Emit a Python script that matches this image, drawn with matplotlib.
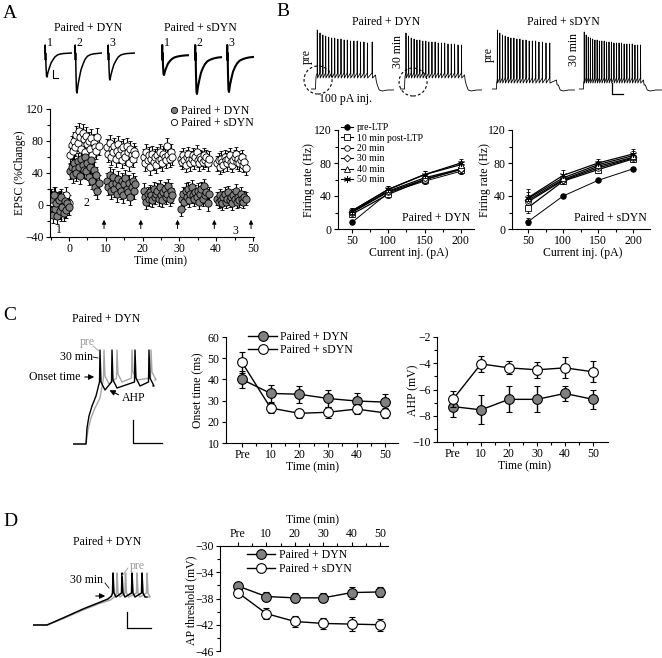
import numpy as np
import matplotlib
matplotlib.use("Agg")
import matplotlib.pyplot as plt
from matplotlib.patches import Ellipse
from matplotlib.lines import Line2D
from matplotlib.ticker import MultipleLocator

plt.rcParams['font.family'] = ['Liberation Serif', 'DejaVu Serif']
plt.rcParams['font.size'] = 8.5
plt.rcParams['axes.linewidth'] = 0.8

GRAY = '0.5'

# ---------------- data ----------------
# Panel A: EPSC (% change), one point every 20 s
a_base_dyn = [8, -12, 12, -5, 3, -14, 6, -8, 10, -3, -10, 5, -6, 2, -2]
a_base_sdyn = [10, 2, -5, 12, -8, 5, -3, 8, -10, 0, 6, -6, 12, -2, 3]
a_seg_start = [0, 10, 20, 30, 40]
a_seg_dyn = [
    [42, 48, 38, 52, 45, 40, 55, 47, 36, 58, 50, 44, 60, 42, 52, 35, 48, 56, 30, 44, 22, 38, 18, 28],
    [30, 22, 38, 18, 26, 35, 20, 28, 14, 32, 24, 18, 30, 12, 26, 34, 20, 16, 28, 10, 22, 30, 18, 26],
    [18, 10, 4, 14, 8, 16, 12, 6, 20, 10, 14, 18, 8, 22, 12, 6, 16, 20, 10, 14, 24, 8, 18, 12],
    [-5, 8, 14, 4, 18, 10, 20, 6, 14, 22, 12, 8, 16, 10, 18, 4, 14, 20, 8, 24, 12, 16, 2, 14],
    [8, 4, 12, 6, 2, 10, 14, 4, 8, 16, 6, 10, 2, 12, 8, 18, 4, 10, 6, 14, 8, 4, 10, 8],
]
a_seg_sdyn = [
    [62, 75, 68, 80, 72, 88, 78, 92, 85, 70, 90, 82, 66, 86, 76, 80, 70, 84, 62, 78, 72, 68, 85, 74],
    [72, 64, 78, 60, 70, 66, 74, 58, 68, 76, 62, 70, 56, 72, 64, 60, 74, 66, 52, 70, 62, 58, 68, 64],
    [60, 52, 66, 56, 62, 48, 58, 64, 54, 60, 50, 62, 56, 66, 58, 52, 64, 60, 56, 74, 62, 58, 66, 60],
    [58, 54, 62, 56, 50, 60, 64, 56, 52, 58, 62, 54, 60, 66, 56, 52, 60, 58, 54, 62, 56, 60, 52, 58],
    [52, 56, 48, 58, 54, 50, 60, 56, 52, 58, 62, 54, 50, 56, 60, 64, 54, 58, 52, 56, 60, 50, 54, 46],
]
a_sem_dyn = [10, 10, 10, 9, 9, 8]      # baseline + 5 segments
a_sem_sdyn = [10, 11, 10, 10, 9, 9]
a_arrow_t = [9.5, 19.5, 29.5, 39.5, 49.5]

# Panel A: example EPSCs (inward current, pA)
epsc_t = [0, 2, 2.4, 2.8, 3.2, 4, 5, 6, 8, 11, 14, 18, 22, 27, 33, 40, 48, 56]
epsc_artifact = [0, 0, 40, -35, 0, 0, 0, 0, 0, 0, 0, 0, 0, 0, 0, 0, 0, 0]
epsc_shape_dyn = [0, 0, 0, 0, 0, -0.55, -0.95, -1.0, -0.8, -0.6, -0.42, -0.28, -0.16,
                  -0.08, -0.04, -0.02, -0.01, 0]
epsc_shape_sdyn = [0, 0, 0, 0, 0, -0.55, -0.95, -1.0, -0.82, -0.64, -0.48, -0.36, -0.27,
                   -0.2, -0.16, -0.13, -0.11, -0.1]
epsc_amp_dyn = [120, 200, 135]
epsc_amp_sdyn = [110, 205, 195]

# Panel B: spike trains at 100 pA (spike times in ms from step onset, peaks in mV)
b_dyn_pre_spk = [12, 30, 49, 68, 88, 108, 128, 149, 170, 191, 212, 234, 256, 278, 300, 323, 346, 378]
b_dyn_pre_pk = [-11, -14, -16, -17, -18, -19, -19, -20, -20, -21, -21, -22, -22, -22, -23, -23, -24, -23]
b_dyn_30_spk = [10, 27, 45, 64, 83, 102, 122, 142, 162, 183, 204, 225, 246, 268, 290, 312, 334, 357, 380]
b_dyn_30_pk = [-14, -17, -19, -20, -21, -21, -22, -22, -23, -23, -23, -24, -24, -24, -25, -25, -25, -26, -26]
b_sdyn_pre_spk = [6, 22, 40, 58, 77, 96, 116, 136, 156, 176, 197, 218, 239, 261, 283, 306, 330, 355]
b_sdyn_pre_pk = [-11, -14, -16, -17, -18, -19, -19, -20, -20, -21, -21, -22, -22, -22, -23, -23, -24, -24]
b_sdyn_30_spk = [5, 18, 32, 46, 61, 76, 91, 106, 122, 138, 154, 170, 186, 203, 220, 237, 254, 271,
                 289, 307, 325, 343, 361, 380]
b_sdyn_30_pk = [-13, -16, -18, -19, -20, -21, -21, -22, -22, -22, -23, -23, -23, -24, -24, -24, -24,
                -25, -25, -25, -25, -26, -26, -26]
b_plateau = [-56, -56, -61, -61]

# Panel B: firing rate vs current
b_current = [50, 100, 150, 200]
b_labels = ['pre-LTP', '10 min post-LTP', '20 min', '30 min', '40 min', '50 min']
b_rate_dyn = [[8, 44, 58, 70], [18, 42, 60, 72], [20, 45, 60, 73],
              [21, 46, 62, 73], [22, 48, 66, 78], [22, 48, 66, 80]]
b_err_dyn = [[2, 4, 3, 3], [3, 5, 4, 4], [3, 3, 4, 4], [3, 3, 4, 4], [4, 4, 4, 4], [4, 4, 4, 5]]
b_rate_sdyn = [[9, 40, 59, 73], [26, 58, 72, 85], [33, 59, 74, 86],
               [35, 60, 76, 87], [37, 62, 78, 89], [38, 65, 80, 91]]
b_err_sdyn = [[4, 2, 2, 2], [7, 4, 4, 4], [6, 4, 4, 4], [6, 4, 5, 4], [8, 5, 5, 5], [10, 6, 5, 6]]

# Panel C / D: grouped time course
cd_time = ['Pre', '10', '20', '30', '40', '50']
onset_dyn = [40.0, 33.4, 33.0, 31.0, 29.8, 29.3]
onset_dyn_err = [4, 4, 4, 4, 4, 4]
onset_sdyn = [48.0, 26.5, 24.0, 24.5, 26.0, 24.2]
onset_sdyn_err = [5, 2.5, 2, 2.5, 2.5, 2.5]
ahp_dyn = [-7.3, -7.55, -6.75, -6.75, -6.3, -6.75]
ahp_dyn_err = [0.8, 1.1, 1.0, 1.0, 0.6, 0.7]
ahp_sdyn = [-6.75, -4.05, -4.35, -4.5, -4.35, -4.65]
ahp_sdyn_err = [0.6, 0.6, 0.5, 0.6, 0.8, 0.8]
thr_dyn = [-36.1, -37.7, -37.9, -37.9, -37.1, -37.0]
thr_dyn_err = [0.5, 0.7, 0.7, 0.7, 0.9, 0.8]
thr_sdyn = [-37.1, -40.3, -41.5, -41.8, -41.9, -42.0]
thr_sdyn_err = [0.5, 0.8, 0.9, 0.9, 1.1, 0.9]

# Panel C trace (onset of step), Panel D trace (ramp)
c_30_rise_t = [0, 13, 14, 16, 19, 23]
c_30_rise_v = [-70, -70, -62, -56, -51, -46]
c_30_spk = [27, 39, 62, 76]
c_30_trough = [-43, -42, -41, -41]
c_pre_rise_t = [0, 13, 15, 18, 22, 27]
c_pre_rise_v = [-70, -70, -63, -57, -52, -47]
c_pre_spk = [31, 44, 59, 78]
c_pre_trough = [-40, -39, -38, -38]
d_30_ramp_t = [0, 28, 60, 100, 130, 150, 157]
d_30_ramp_v = [-70, -70, -66.5, -62, -59, -57, -55.5]
d_30_spk = [160, 178, 198, 218]
d_pre_ramp_t = [0, 28, 60, 100, 130, 155, 165]
d_pre_ramp_v = [-70, -70, -66.8, -62.5, -59.5, -57.5, -55.5]
d_pre_spk = [168, 185, 208, 228]

# ---------------- figure ----------------
W, H = 662, 658
fig = plt.figure(figsize=(W / 100, H / 100), dpi=100)


def px_axes(l, t, r, b):
    return fig.add_axes([l / W, 1 - b / H, (r - l) / W, (b - t) / H])


def ftext(x, y, s, **kw):
    kw.setdefault('ha', 'center')
    kw.setdefault('va', 'center')
    fig.text(x / W, 1 - y / H, s, **kw)


def style(ax):
    for s in ['top', 'right']:
        ax.spines[s].set_visible(False)
    ax.tick_params(which='major', direction='out', length=3, width=0.8, labelsize=8.5, pad=1.5)
    ax.tick_params(which='minor', direction='out', length=2, width=0.8)


def arrow(x0, y0, x1, y1):
    fig.add_artist(matplotlib.patches.FancyArrowPatch(
        (x0 / W, 1 - y0 / H), (x1 / W, 1 - y1 / H), transform=fig.transFigure,
        arrowstyle='-|>', mutation_scale=8, lw=0.8, color='k'))


# panel letters
ftext(10, 13, 'A', fontsize=14)
ftext(283, 11, 'B', fontsize=14)
ftext(10, 315, 'C', fontsize=14)
ftext(10, 522, 'D', fontsize=14)

# ---- A: EPSC traces ----
ftext(88, 28, 'Paired + DYN')
ftext(200, 28, 'Paired + sDYN')
for lefts, amps, shape, lw in [([44, 74, 107], epsc_amp_dyn, epsc_shape_dyn, 1.1),
                               ([161, 194, 226], epsc_amp_sdyn, epsc_shape_sdyn, 1.5)]:
    for i, (l, amp) in enumerate(zip(lefts, amps)):
        ax = px_axes(l, 38, l + 28, 98)
        ax.set_xlim(0, 56)
        ax.set_ylim(-225, 75)
        ax.axis('off')
        cur = amp * np.array(shape) + np.array(epsc_artifact)
        ax.plot(epsc_t, cur, color='k', lw=lw)
        ax.text(5, 22, str(i + 1), ha='left', va='bottom', fontsize=8.5)
        if i == 0 and lw < 1.2:
            ax.plot([18, 18, 28], [-85, -125, -125], color='k', lw=0.8)

# ---- A: time course ----
axA = px_axes(50, 109, 254, 237)
style(axA)
axA.set_xlim(-5.2, 50.3)
axA.set_ylim(-40, 120)
axA.set_yticks([-40, 0, 40, 80, 120])
axA.yaxis.set_minor_locator(MultipleLocator(20))
axA.set_xticks(range(0, 51, 10))
axA.xaxis.set_minor_locator(MultipleLocator(5))
a_t = [np.arange(15) / 3 - 4.83] + [s + (np.arange(24) + 1) / 3 for s in a_seg_start]
a_dyn = [a_base_dyn] + a_seg_dyn
a_sdyn = [a_base_sdyn] + a_seg_sdyn
for t, y, e in zip(a_t, a_sdyn, a_sem_sdyn):
    axA.errorbar(t, y, yerr=e, fmt='o', ms=5.2, mfc='white', mec='k', mew=0.6,
                 ecolor='k', elinewidth=0.8, capsize=1.5, capthick=0.8)
for t, y, e in zip(a_t, a_dyn, a_sem_dyn):
    axA.errorbar(t, y, yerr=e, fmt='o', ms=5.2, mfc=GRAY, mec='k', mew=0.6,
                 ecolor='k', elinewidth=0.8, capsize=1.5, capthick=0.8)
for t in a_arrow_t:
    axA.annotate('', xy=(t, -15), xytext=(t, -33),
                 arrowprops=dict(arrowstyle='-|>', mutation_scale=6, lw=0.7, color='k'))
axA.text(-2.7, -31, '1', ha='center', va='center')
axA.text(4.8, 2, '2', ha='center', va='center')
axA.text(45.3, -32, '3', ha='center', va='center')
hA = [Line2D([], [], ls='', marker='o', ms=4.5, mfc=GRAY, mec='k', mew=0.6),
      Line2D([], [], ls='', marker='o', ms=4.5, mfc='white', mec='k', mew=0.6)]
axA.legend(hA, ['Paired + DYN', 'Paired + sDYN'], loc='upper right', bbox_to_anchor=(1.0, 1.03),
           frameon=False, borderpad=0, handlelength=0.6, handletextpad=0.3, labelspacing=0.0,
           fontsize=8.5, borderaxespad=0)
ftext(20, 173, 'EPSC (%Change)', rotation=90)
ftext(161, 261, 'Time (min)')


# ---- B: spike trains ----
def spike_trace(spikes, peaks, plateau):
    t = [-30, 0, 1.5, 4]
    v = [-70, -70, -63, plateau - 1]
    for s, p in zip(spikes, peaks):
        t += [s - 1, s, s + 1.5]
        v += [plateau + 2, p, plateau - 3]
    t += [400, 404, 412, 425, 445, 480, 520]
    v += [plateau, plateau - 5, -66, -71, -72, -71, -71]
    return t, v


ftext(386, 22, 'Paired + DYN')
ftext(563, 22, 'Paired + sDYN')
b_trains = [(b_dyn_pre_spk, b_dyn_pre_pk), (b_dyn_30_spk, b_dyn_30_pk),
            (b_sdyn_pre_spk, b_sdyn_pre_pk), (b_sdyn_30_spk, b_sdyn_30_pk)]
b_lefts = [311, 400, 492, 579]
b_axes = []
for l, (spk, pk), plat in zip(b_lefts, b_trains, b_plateau):
    ax = px_axes(l, 25, l + 82.5, 95)
    ax.set_xlim(-30, 520)
    ax.set_ylim(-76, -6)
    ax.axis('off')
    t, v = spike_trace(spk, pk, plat)
    ax.plot(t, v, color='k', lw=0.6)
    b_axes.append(ax)
# dashed circles around the step onset
ms_px = 550 / 82.5
for ax, c in [(b_axes[0], (17, -61)), (b_axes[1], (57, -63))]:
    ax.add_patch(Ellipse(c, width=28 * ms_px, height=28, fill=False, ls=(0, (2.5, 2)),
                         lw=0.8, color='k', clip_on=False))
b_axes[3].plot([190, 190, 263], [-64, -75, -75], color='k', lw=0.9, clip_on=False)
ftext(307, 57, 'pre', rotation=90)
ftext(398, 52, '30 min', rotation=90)
ftext(489, 55, 'pre', rotation=90)
ftext(574, 50, '30 min', rotation=90)
ftext(319, 99, '100 pA inj.', ha='left')

# ---- B: firing rate ----
b_mk = [dict(marker='o', mfc='k', ms=4), dict(marker='s', mfc='white', ms=4.5),
        dict(marker='o', mfc='white', ms=4), dict(marker='D', mfc='white', ms=3.5),
        dict(marker='^', mfc='white', ms=4.5), dict(marker=(6, 2, 0), mfc='k', ms=5)]
for (l, r, xl), rates, errs, tag in [((338, 474, (30.7, 218)), b_rate_dyn, b_err_dyn, 'Paired + DYN'),
                                     ((512, 650, (27, 224)), b_rate_sdyn, b_err_sdyn, 'Paired + sDYN')]:
    ax = px_axes(l, 130, r, 229)
    style(ax)
    ax.set_xlim(*xl)
    ax.set_ylim(0, 120)
    ax.set_yticks([0, 40, 80, 120])
    ax.yaxis.set_minor_locator(MultipleLocator(20))
    ax.set_xticks(b_current)
    ax.xaxis.set_minor_locator(MultipleLocator(25))
    for k in range(6):
        ax.errorbar(b_current, rates[k], yerr=errs[k], color='k', lw=0.7 if k == 0 else 0.9,
                    mec='k', mew=0.6, elinewidth=0.6, capsize=1.5, capthick=0.6, **b_mk[k])
    ax.text(0.975, 0.11, tag, transform=ax.transAxes, ha='right', va='center')
    if tag == 'Paired + DYN':
        hB = [Line2D([], [], color='k', lw=0.8, mec='k', mew=0.6, **m) for m in b_mk]
        ax.legend(hB, b_labels, loc='upper left', bbox_to_anchor=(0.02, 1.07), frameon=False,
                  fontsize=7, borderpad=0, handlelength=1.3, handletextpad=0.4,
                  labelspacing=0.15, borderaxespad=0)
ftext(309, 180, 'Firing rate (Hz)', rotation=90)
ftext(485, 180, 'Firing rate (Hz)', rotation=90)
ftext(409, 253, 'Current inj. (pA)')
ftext(583, 253, 'Current inj. (pA)')


# ---- C: onset trace ----
def onset_trace(rise_t, rise_v, spikes, troughs, thr, peak, t_end):
    t = list(rise_t)
    v = list(rise_v)
    for s, tr in zip(spikes, troughs):
        t += [s - 0.5, s, s + 1, s + 5]
        v += [thr, peak, tr + 4, tr]
    t += [t_end]
    v += [v[-1]]
    return t, v


ftext(106, 319, 'Paired + DYN')
axCt = px_axes(73, 340, 163, 448)
axCt.set_xlim(0, 90)
axCt.set_ylim(-72, -18)
axCt.axis('off')
t, v = onset_trace(c_pre_rise_t, c_pre_rise_v, c_pre_spk, c_pre_trough, -37, -23, 82)
axCt.plot(t, v, color='0.65', lw=1.0)
t, v = onset_trace(c_30_rise_t, c_30_rise_v, c_30_spk, c_30_trough, -39, -23, 80)
axCt.plot(t, v, color='k', lw=1.0)
axCt.plot([60, 60, 89], [-58, -69.5, -69.5], color='k', lw=0.9, clip_on=False)
ftext(87, 342, 'pre', color='0.6')
fig.add_artist(Line2D([93 / W, 99 / W], [1 - 346 / H, 1 - 351 / H], color='0.6', lw=0.6))
ftext(76, 357, '30 min')
fig.add_artist(Line2D([93 / W, 98 / W], [1 - 357 / H, 1 - 358 / H], color='k', lw=0.6))
ftext(80, 377, 'Onset time', ha='right')
arrow(82, 377, 97, 377)
ftext(122, 398, 'AHP', ha='left')
arrow(121, 396, 107, 389)


def group_plot(ax, ydyn, edyn, ysdyn, esdyn):
    x = np.arange(len(cd_time))
    ax.errorbar(x, ydyn, yerr=edyn, fmt='-o', color='k', lw=1.0, ms=7, mfc=GRAY, mec='k',
                mew=0.8, elinewidth=1.0, capsize=2.2, capthick=1.0, zorder=3)
    ax.errorbar(x, ysdyn, yerr=esdyn, fmt='-o', color='k', lw=1.0, ms=7, mfc='white', mec='k',
                mew=0.8, elinewidth=1.0, capsize=2.2, capthick=1.0, zorder=4)
    ax.set_xticks(x)
    ax.set_xticklabels(cd_time)
    ax.set_xticks(x[:-1] + 0.5, minor=True)


def group_legend(ax, anchor):
    h = [Line2D([], [], color='k', lw=1.0, marker='o', ms=7, mfc=GRAY, mec='k', mew=0.8),
         Line2D([], [], color='k', lw=1.0, marker='o', ms=7, mfc='white', mec='k', mew=0.8)]
    ax.legend(h, ['Paired + DYN', 'Paired + sDYN'], loc='upper left', bbox_to_anchor=anchor,
              frameon=False, borderpad=0, handlelength=2.4, handletextpad=0.3,
              labelspacing=0.15, borderaxespad=0)


# ---- C: onset time ----
axC1 = px_axes(226, 337, 398, 443)
style(axC1)
group_plot(axC1, onset_dyn, onset_dyn_err, onset_sdyn, onset_sdyn_err)
axC1.set_xlim(-0.56, 5.45)
axC1.set_ylim(10, 60)
axC1.set_yticks(range(10, 61, 10))
group_legend(axC1, (0.13, 1.06))
ftext(198, 390, 'Onset time (ms)', rotation=90)
ftext(312, 467, 'Time (min)')

# ---- C: AHP ----
axC2 = px_axes(437, 337, 608, 442)
style(axC2)
group_plot(axC2, ahp_dyn, ahp_dyn_err, ahp_sdyn, ahp_sdyn_err)
axC2.set_xlim(-0.57, 5.54)
axC2.set_ylim(-10, -2)
axC2.set_yticks([-10, -8, -6, -4, -2])
axC2.yaxis.set_minor_locator(MultipleLocator(1))
ftext(413, 390, 'AHP (mV)', rotation=90)
ftext(524, 466, 'Time (min)')


# ---- D: ramp trace ----
def ramp_trace(ramp_t, ramp_v, spikes, thr, peak, trough, t_end):
    t = list(ramp_t)
    v = list(ramp_v)
    for s in spikes:
        t += [s - 1, s, s + 2, s + 6]
        v += [thr, peak, trough + 2, trough]
    t += [t_end]
    v += [v[-1]]
    return t, v


ftext(107, 542, 'Paired + DYN')
axDt = px_axes(33, 560, 152, 630)
axDt.set_xlim(0, 238)
axDt.set_ylim(-72.5, -37.5)
axDt.axis('off')
t, v = ramp_trace(d_pre_ramp_t, d_pre_ramp_v, d_pre_spk, -54, -44, -56, 232)
axDt.plot(t, v, color='0.65', lw=1.1)
t, v = ramp_trace(d_30_ramp_t, d_30_ramp_v, d_30_spk, -54, -44, -56, 228)
axDt.plot(t, v, color='k', lw=1.1)
axDt.plot([188, 188, 236], [-63.5, -71.5, -71.5], color='k', lw=0.9, clip_on=False)
ftext(87, 580, '30 min')
fig.add_artist(Line2D([105 / W, 109 / W], [1 - 583 / H, 1 - 588 / H], color='k', lw=0.6))
ftext(137, 566, 'pre', color='0.6')
fig.add_artist(Line2D([128 / W, 122 / W], [1 - 568 / H, 1 - 576 / H], color='0.6', lw=0.6))
arrow(93, 596, 108, 596)

# ---- D: AP threshold ----
axD = px_axes(220, 546, 388, 651)
for s in ['bottom', 'right']:
    axD.spines[s].set_visible(False)
axD.xaxis.tick_top()
axD.tick_params(which='major', direction='out', length=3, width=0.8, labelsize=8.5, pad=1.5)
axD.tick_params(which='minor', direction='out', length=2, width=0.8)
group_plot(axD, thr_dyn, thr_dyn_err, thr_sdyn, thr_sdyn_err)
axD.set_xlim(-0.63, 5.28)
axD.set_ylim(-46, -30)
axD.set_yticks([-46, -42, -38, -34, -30])
axD.yaxis.set_minor_locator(MultipleLocator(2))
group_legend(axD, (0.16, 0.97))
ftext(191, 600, 'AP threshold (mV)', rotation=90)
ftext(312, 520, 'Time (min)')

fig.savefig('out.png', dpi=100)
